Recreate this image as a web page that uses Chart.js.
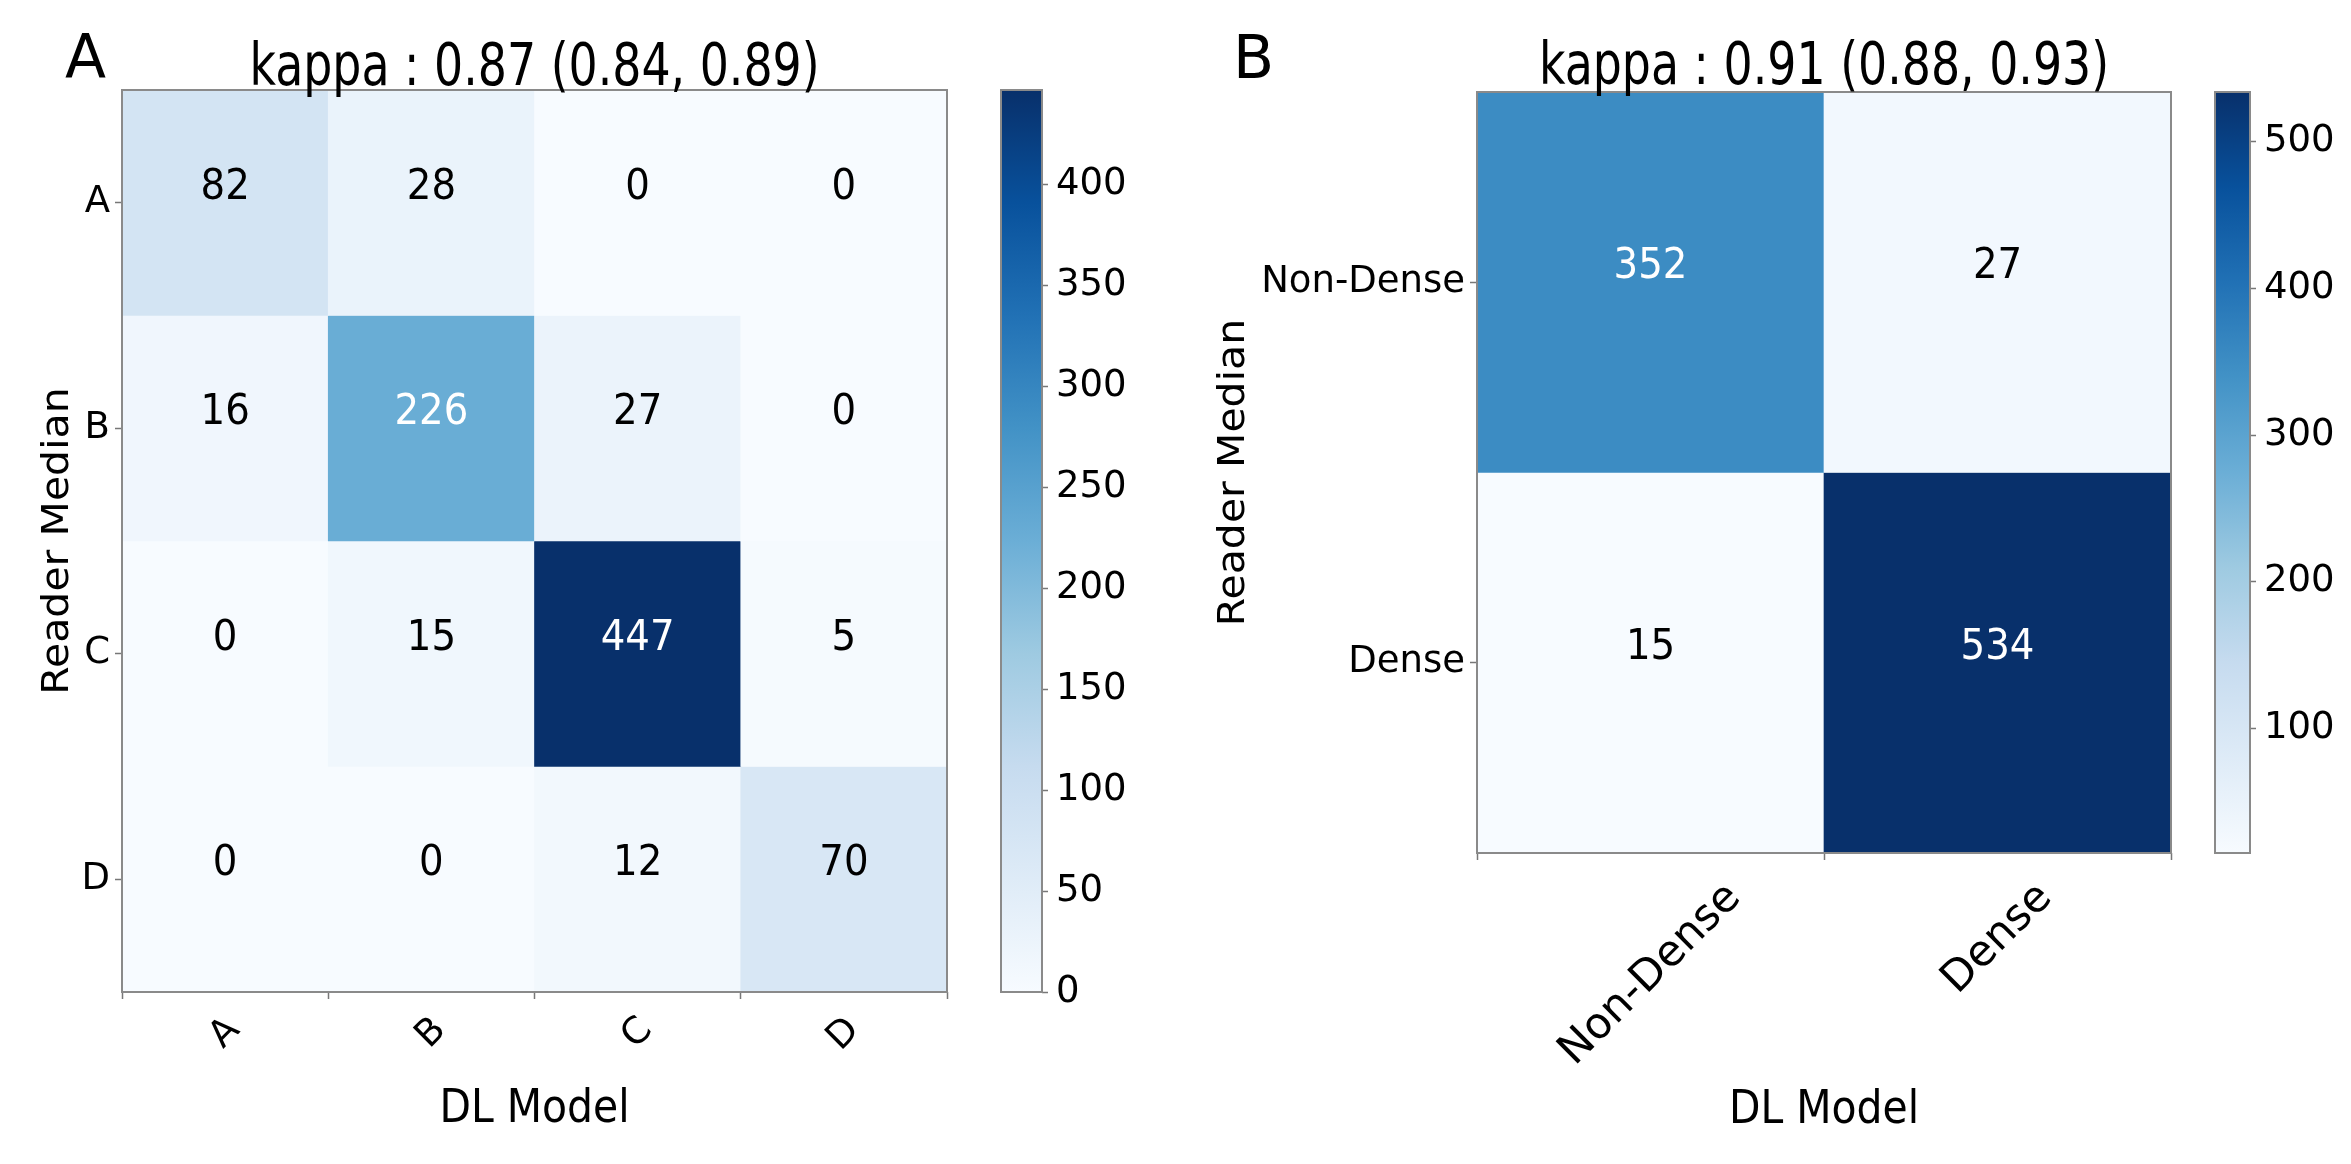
<!DOCTYPE html>
<html lang="en">
<head>
<meta charset="UTF-8">
<title>kappa confusion matrices</title>
<style>
  html, body { margin: 0; padding: 0; background: #fff; }
  #page { position: relative; width: 2351px; height: 1164px; overflow: hidden; background: #fff; }
  canvas { position: absolute; top: 0; }
</style>
</head>
<body>
<div id="page">
  <canvas id="heatA" width="980" height="1164" style="left:0px"></canvas>
  <canvas id="barA" width="160" height="1164" style="left:990px"></canvas>
  <canvas id="heatB" width="1020" height="1164" style="left:1180px"></canvas>
  <canvas id="barB" width="151" height="1164" style="left:2200px"></canvas>
</div>
<script src="https://cdn.jsdelivr.net/npm/chart.js"></script>
<script>
// panel A: four density classes
const classesA = ['A', 'B', 'C', 'D'];
const countsA = [
  [82, 28, 0, 0],
  [16, 226, 27, 0],
  [0, 15, 447, 5],
  [0, 0, 12, 70]
];
const kappaA = 'kappa : 0.87 (0.84, 0.89)';
const barTicksA = [0, 50, 100, 150, 200, 250, 300, 350, 400];

// panel B: dense / non-dense
const classesB = ['Non-Dense', 'Dense'];
const countsB = [
  [352, 27],
  [15, 534]
];
const kappaB = 'kappa : 0.91 (0.88, 0.93)';
const barTicksB = [100, 200, 300, 400, 500];

const xTitle = 'DL Model';
const yTitle = 'Reader Median';

// matplotlib "Blues"
const blues = ['#f7fbff', '#deebf7', '#c6dbef', '#9ecae1', '#6baed6', '#4292c6', '#2171b5', '#08519c', '#08306b'];

const FONT = '"DejaVu Sans", sans-serif';
Chart.defaults.font.family = FONT;
Chart.defaults.color = '#000';

function hexRgb(h) {
  return [1, 3, 5].map(i => parseInt(h.slice(i, i + 2), 16));
}

function bluesAt(t) {
  t = Math.max(0, Math.min(1, t));
  const p = t * (blues.length - 1);
  const i = Math.min(Math.floor(p), blues.length - 2);
  const f = p - i;
  const a = hexRgb(blues[i]), b = hexRgb(blues[i + 1]);
  return 'rgb(' + a.map((v, k) => Math.round(v + (b[k] - v) * f)).join(',') + ')';
}

// text with optional squeeze / rotation
function text(ctx, s, x, y, size, o) {
  o = o || {};
  ctx.save();
  ctx.translate(x, y);
  if (o.rot) ctx.rotate(o.rot);
  ctx.scale(o.sx || 1, o.sy || 1);
  ctx.font = size + 'px ' + FONT;
  ctx.textAlign = o.align || 'center';
  ctx.textBaseline = o.baseline || 'middle';
  ctx.fillStyle = o.color || '#000';
  ctx.fillText(s, 0, 0);
  ctx.restore();
}

function frame(ctx, a) {
  ctx.save();
  ctx.strokeStyle = '#8a8a8a';
  ctx.lineWidth = 2;
  ctx.strokeRect(a.left, a.top, a.right - a.left, a.bottom - a.top);
  ctx.restore();
}

const tickGrid = { display: true, drawOnChartArea: false, tickLength: 7, tickColor: '#777', tickWidth: 1.5 };

function heatmap(id, classes, counts, p) {
  const flat = counts.flat();
  const lo = Math.min(...flat), hi = Math.max(...flat);
  const mid = (lo + hi) / 2;

  const datasets = counts.map((row, r) => ({
    data: row.map(() => [r - 0.5, r + 0.5]),
    backgroundColor: row.map(v => bluesAt((v - lo) / (hi - lo)))
  }));

  const decor = {
    id: 'decor',
    afterDraw(chart) {
      const ctx = chart.ctx, a = chart.chartArea;
      const cx = (a.left + a.right) / 2, cy = (a.top + a.bottom) / 2;

      counts.forEach((row, r) => {
        chart.getDatasetMeta(r).data.forEach((bar, c) => {
          const v = row[c];
          text(ctx, String(v), bar.x, (bar.y + bar.base) / 2 - 15, 43,
            { sx: 0.9, color: v > mid ? '#fff' : '#000' });
        });
      });

      frame(ctx, a);

      // rotated column labels, centred under each tick
      const xs = chart.scales.x;
      ctx.font = p.xTickSize + 'px ' + FONT;
      classes.forEach((c, i) => {
        const w = ctx.measureText(c).width;
        const d = (w + p.xTickSize * 0.73) * Math.SQRT1_2 / 2;
        text(ctx, c, xs.getPixelForTick(i), a.bottom + p.xLabelGap + d, p.xTickSize, { rot: -Math.PI / 4 });
      });

      text(ctx, xTitle, cx, p.xTitleY, 47, { sx: 0.87, baseline: 'alphabetic' });
      text(ctx, yTitle, a.left + p.yTitleDx, cy, 41, { rot: -Math.PI / 2, sy: 0.9, baseline: 'alphabetic' });
      text(ctx, p.title, cx, p.titleY, 58, { sx: 0.79, baseline: 'alphabetic' });
      text(ctx, p.letter, a.left - p.letterDx, p.letterY, 60, { align: 'left', baseline: 'alphabetic' });
    }
  };

  new Chart(document.getElementById(id), {
    type: 'bar',
    data: { labels: classes, datasets },
    options: {
      responsive: false,
      animation: false,
      devicePixelRatio: 1,
      layout: { padding: { top: p.top, right: p.right, bottom: 0, left: 0 } },
      datasets: { bar: { grouped: false, barPercentage: 1, categoryPercentage: 1, borderWidth: 0 } },
      plugins: { legend: { display: false }, tooltip: { enabled: false }, title: { display: false } },
      scales: {
        x: {
          type: 'category',
          offset: true,
          grid: tickGrid,
          border: { display: false },
          ticks: { autoSkip: false, maxRotation: 0, callback: () => '' },
          afterFit: s => { s.height = p.xHeight; }
        },
        y: {
          type: 'linear',
          reverse: true,
          min: -0.5,
          max: classes.length - 0.5,
          afterBuildTicks: s => { s.ticks = classes.map((c, i) => ({ value: i })); },
          ticks: { callback: v => classes[v], font: { size: 37 }, color: '#000', padding: 5 },
          grid: tickGrid,
          border: { display: false },
          afterFit: s => { s.width = p.yWidth; }
        }
      }
    },
    plugins: [decor]
  });

  return [lo, hi];
}

function colorbar(id, lo, hi, ticks, p) {
  new Chart(document.getElementById(id), {
    type: 'bar',
    data: {
      labels: [''],
      datasets: [{
        data: [[lo, hi]],
        backgroundColor: c => {
          const a = c.chart.chartArea;
          if (!a) return blues[0];
          const g = c.chart.ctx.createLinearGradient(0, a.bottom, 0, a.top);
          blues.forEach((col, i) => g.addColorStop(i / (blues.length - 1), col));
          return g;
        },
        borderWidth: 0,
        barPercentage: 1,
        categoryPercentage: 1
      }]
    },
    options: {
      responsive: false,
      animation: false,
      devicePixelRatio: 1,
      layout: { padding: { top: p.top, left: p.barLeft, bottom: p.xHeight, right: 0 } },
      plugins: { legend: { display: false }, tooltip: { enabled: false } },
      scales: {
        x: { display: false },
        y: {
          position: 'right',
          min: lo,
          max: hi,
          afterBuildTicks: s => { s.ticks = ticks.map(v => ({ value: v })); },
          ticks: { font: { size: 37 }, color: '#000', padding: 8 },
          grid: Object.assign({}, tickGrid, { tickLength: 6 }),
          border: { display: false },
          afterFit: s => { s.width = p.barAxis; }
        }
      }
    },
    plugins: [{ id: 'cbframe', afterDraw: ch => frame(ch.ctx, ch.chartArea) }]
  });
}

const panelA = {
  title: kappaA, letter: 'A',
  top: 90, right: 33, yWidth: 122, xHeight: 172,
  xTickSize: 37, xLabelGap: 23, xTitleY: 1122, yTitleDx: -54,
  titleY: 85, letterDx: 57, letterY: 77,
  barLeft: 11, barAxis: 108
};
const panelB = {
  title: kappaB, letter: 'B',
  top: 92, right: 29, yWidth: 297, xHeight: 311,
  xTickSize: 43, xLabelGap: 27, xTitleY: 1123, yTitleDx: -233,
  titleY: 84, letterDx: 244, letterY: 78,
  barLeft: 15, barAxis: 101
};

const rangeA = heatmap('heatA', classesA, countsA, panelA);
colorbar('barA', rangeA[0], rangeA[1], barTicksA, panelA);
const rangeB = heatmap('heatB', classesB, countsB, panelB);
colorbar('barB', rangeB[0], rangeB[1], barTicksB, panelB);
</script>
</body>
</html>
